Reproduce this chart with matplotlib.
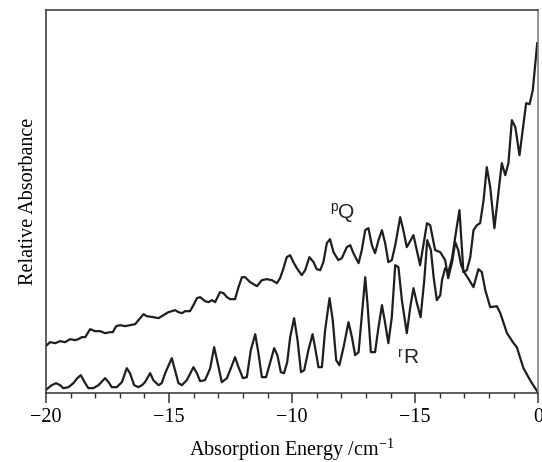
import matplotlib
matplotlib.use("Agg")
import matplotlib.pyplot as plt
from matplotlib.ticker import MultipleLocator, FixedLocator, FixedFormatter

plt.rcParams['font.family'] = ['Liberation Serif', 'DejaVu Serif']
plt.rcParams['mathtext.fontset'] = 'custom'
plt.rcParams['mathtext.rm'] = 'Liberation Serif'
plt.rcParams['mathtext.it'] = 'Liberation Serif:italic'

# pQ branch: energy (cm^-1) and relative absorbance
pq_x = [-19.97, -19.84, -19.63, -19.43, -19.23, -19.02, -18.82, -18.69, -18.55, -18.41,
        -18.21, -18.01, -17.80, -17.60, -17.40, -17.29, -17.15, -16.99, -16.79, -16.59,
        -16.38, -16.21, -16.04, -15.91, -15.64, -15.43, -15.23, -15.03, -14.89, -14.76,
        -14.62, -14.48, -14.35, -14.15, -14.01, -13.87, -13.74, -13.54, -13.40, -13.26,
        -13.13, -12.93, -12.79, -12.65, -12.52, -12.32, -12.18, -12.04, -11.91, -11.71,
        -11.43, -11.23, -11.03, -10.82, -10.62, -10.49, -10.35, -10.22, -10.08, -9.95,
        -9.81, -9.61, -9.47, -9.30, -9.13, -9.00, -8.86, -8.73, -8.59, -8.46,
        -8.32, -8.12, -7.98, -7.78, -7.64, -7.51, -7.30, -7.17, -7.03, -6.90,
        -6.76, -6.63, -6.49, -6.35, -6.22, -6.09, -5.95, -5.81, -5.68, -5.61,
        -5.48, -5.34, -5.07, -4.80, -4.52, -4.39, -4.19, -3.98, -3.78, -3.66,
        -3.50, -3.37, -3.25, -3.13, -3.01, -2.85, -2.63, -2.43, -2.29, -2.15,
        -1.95, -1.68, -1.54, -1.27, -1.00, -0.87, -0.60, -0.33, -0.02]
pq_y = [48, 51, 50, 52, 51, 54, 53, 54, 56, 56,
        64, 62, 62, 60, 61, 61, 67, 68, 67, 68,
        69, 74, 79, 77, 76, 75, 78, 81, 82, 83,
        81, 80, 82, 82, 88, 95, 96, 92, 91, 93,
        91, 101, 100, 96, 94, 94, 106, 116, 116, 111,
        107, 113, 114, 113, 110, 115, 125, 136, 138, 131,
        125, 118, 123, 136, 131, 124, 123, 131, 150, 154,
        141, 133, 135, 146, 148, 140, 130, 143, 163, 165,
        148, 140, 153, 163, 150, 131, 133, 148, 166, 176,
        163, 146, 158, 128, 170, 168, 143, 141, 133, 115,
        131, 151, 143, 128, 121, 115, 106, 124, 121, 103,
        86, 87, 80, 60, 50, 46, 25, 13, 1]

# rR branch
rr_x = [-19.97, -19.77, -19.59, -19.43, -19.30, -19.09, -18.89, -18.73, -18.59, -18.41,
        -18.28, -18.08, -17.87, -17.60, -17.46, -17.33, -17.13, -16.92, -16.72, -16.59,
        -16.42, -16.25, -16.10, -15.98, -15.77, -15.64, -15.43, -15.30, -15.16, -14.89,
        -14.76, -14.62, -14.48, -14.28, -14.01, -13.87, -13.74, -13.54, -13.33, -13.17,
        -12.99, -12.86, -12.65, -12.49, -12.32, -12.18, -12.00, -11.84, -11.68, -11.50,
        -11.37, -11.23, -11.06, -10.89, -10.73, -10.60, -10.46, -10.33, -10.20, -10.08,
        -9.92, -9.78, -9.64, -9.51, -9.34, -9.17, -9.07, -8.93, -8.79, -8.66,
        -8.48, -8.35, -8.21, -8.08, -7.91, -7.71, -7.57, -7.44, -7.30, -7.16,
        -7.03, -6.94, -6.80, -6.63, -6.49, -6.35, -6.22, -6.09, -5.95, -5.81,
        -5.68, -5.54, -5.34, -5.20, -5.07, -4.93, -4.78, -4.63, -4.51, -4.36,
        -4.25, -4.12, -3.98, -3.91, -3.78, -3.65, -3.50, -3.33, -3.20, -3.04,
        -2.90, -2.76, -2.63, -2.49, -2.36, -2.22, -2.09, -1.95, -1.78, -1.48,
        -1.34, -1.21, -1.07, -0.93, -0.76, -0.49, -0.35, -0.22, -0.04]
rr_y = [4, 8, 10, 8, 5, 6, 10, 15, 18, 10,
        5, 5, 8, 15, 11, 6, 6, 11, 25, 20,
        8, 6, 8, 11, 20, 13, 8, 10, 20, 35,
        23, 10, 8, 13, 26, 20, 12, 13, 25, 46,
        26, 11, 15, 25, 36, 26, 15, 16, 43, 59,
        40, 16, 16, 31, 45, 38, 21, 20, 31, 56,
        75, 53, 21, 23, 43, 59, 46, 26, 26, 63,
        95, 73, 33, 28, 46, 71, 56, 38, 41, 80,
        116, 90, 41, 41, 66, 88, 70, 50, 76, 128,
        126, 93, 60, 86, 105, 90, 76, 113, 153, 143,
        116, 93, 98, 113, 125, 121, 135, 163, 183, 121,
        123, 136, 163, 168, 170, 193, 226, 206, 165, 230,
        218, 230, 273, 266, 238, 290, 289, 303, 350]

xtick_pos = [-20, -15, -10, -5, 0]
xtick_labels = ['\u221220', '\u221215', '\u221210', '\u221215', '0']

fig = plt.figure(figsize=(5.42, 4.62), dpi=100)
ax = fig.add_axes([0.085, 0.149, 0.908, 0.829])

line_col = '#1e1e1e'
ax.plot(pq_x, pq_y, color=line_col, lw=1.6, solid_joinstyle='round')
ax.plot(rr_x, rr_y, color=line_col, lw=1.6, solid_joinstyle='round')

ax.set_xlim(-20, 0)
ax.set_ylim(0, 383)

ax.xaxis.set_major_locator(FixedLocator(xtick_pos))
ax.xaxis.set_major_formatter(FixedFormatter(xtick_labels))
ax.xaxis.set_minor_locator(MultipleLocator(1))
ax.tick_params(axis='x', which='major', direction='out', length=7, width=1.1,
               labelsize=14.5, pad=4, color='#333333')
ax.tick_params(axis='x', which='minor', direction='out', length=3.5, width=1.0,
               color='#333333')
ax.set_yticks([])

for s in ax.spines.values():
    s.set_linewidth(1.1)
    s.set_color('#333333')
ax.spines['right'].set_color('#777777')

ax.set_xlabel('Absorption Energy /cm$^{\u22121}$', fontsize=14.5, labelpad=7)
ax.set_ylabel('Relative Absorbance', fontsize=14.5, labelpad=6)

sans = ['Liberation Sans', 'DejaVu Sans']
ax.text(-8.13, 175, 'Q', family=sans, fontsize=15, color='#222222', ha='left', va='baseline')
ax.text(-8.46, 193, 'p', family=sans, fontsize=10, color='#222222', ha='left', va='top')
ax.text(-5.49, 30, 'R', family=sans, fontsize=15, color='#222222', ha='left', va='baseline')
ax.text(-5.71, 47, 'r', family=sans, fontsize=10, color='#222222', ha='left', va='top')

fig.savefig('out.png', dpi=100)
